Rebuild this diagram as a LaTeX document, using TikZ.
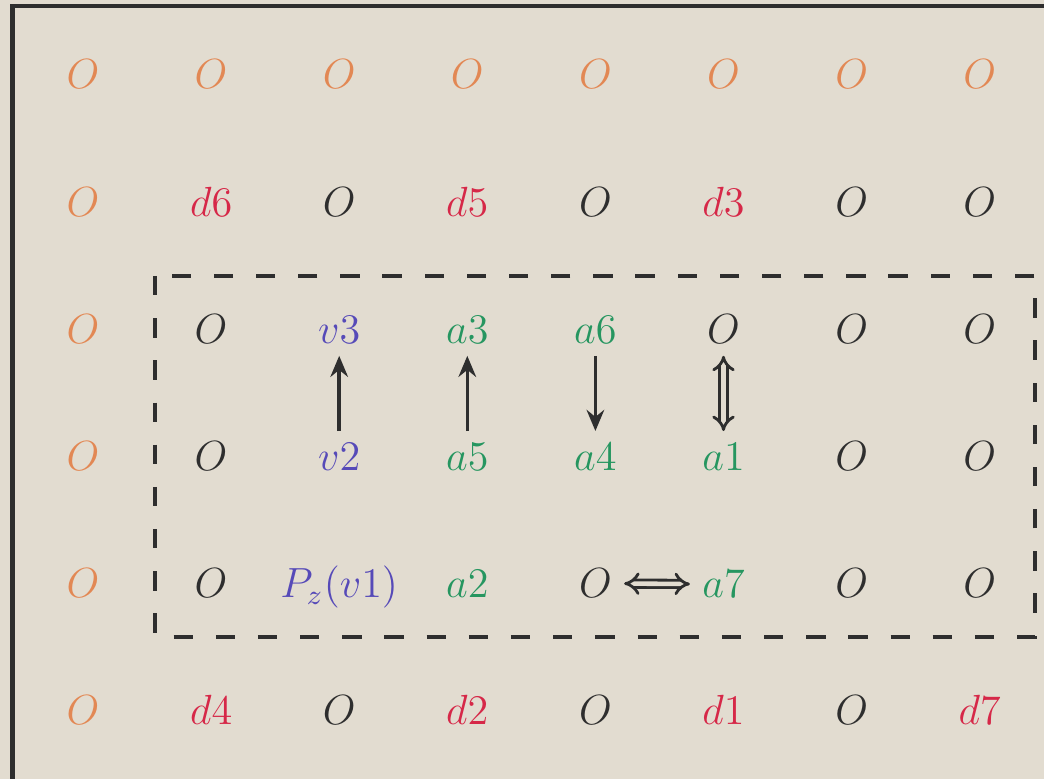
\documentclass[tikz,border=0pt]{standalone}
\usepackage{xcolor}
\usetikzlibrary{arrows.meta}
\definecolor{qbg}{RGB}{226,220,208}
\definecolor{qorange}{RGB}{226,136,84}
\definecolor{qred}{RGB}{214,40,72}
\definecolor{qgreen}{RGB}{38,150,96}
\definecolor{qblue}{RGB}{86,74,184}
\definecolor{qgray}{RGB}{46,46,46}

\begin{document}
\begin{tikzpicture}[
  cell/.style={anchor=base, font=\fontsize{12}{14}\selectfont},
  arr/.style={-{Stealth[length=6pt,width=5pt,inset=2pt]}, line width=1pt, qgray},
  dblarr/.style={{Implies}-{Implies}, double=qbg, double distance=1.3pt, line width=0.8pt, qgray}
]

\clip (0,0) rectangle (10.44,7.79);
\fill[qbg] (0,0) rectangle (10.44,7.79);
%frame:
\draw[line width=1.2pt, qgray] (0.125,-1) |- (11,7.73);

%box:
\draw[dashed, dash pattern=on 5.5pt off 6.5pt, line width=0.9pt, qgray] (1.55,7.79-2.76) rectangle (10.35,7.79-6.37);

\begin{scope}[shift={(0.83-1.281,6.90+1.272)}, x=1.281cm, y=-1.272cm]
%outer zeros:
\foreach \c in {1,...,8}
  \node[cell, qorange] (o-1-\c) at (\c,1) {$O$};
\foreach \r in {2,...,6}
  \node[cell, qorange] (o-\r-1) at (1,\r) {$O$};
%inner zeros:
\foreach \r/\c in {2/3,2/5,2/7,2/8,3/2,3/6,3/7,3/8,4/2,4/7,4/8,5/2,5/5,5/7,5/8,6/3,6/5,6/7}
  \node[cell, qgray] (o-\r-\c) at (\c,\r) {$O$};
%d:
\node[cell, qred] (d6) at (2,2) {$d6$};
\node[cell, qred] (d5) at (4,2) {$d5$};
\node[cell, qred] (d3) at (6,2) {$d3$};
\node[cell, qred] (d4) at (2,6) {$d4$};
\node[cell, qred] (d2) at (4,6) {$d2$};
\node[cell, qred] (d1) at (6,6) {$d1$};
\node[cell, qred] (d7) at (8,6) {$d7$};
%v:
\node[cell, qblue] (v3) at (3,3) {$v3$};
\node[cell, qblue] (v2) at (3,4) {$v2$};
\node[cell, qblue] (pz) at (3,5) {$P_z(v1)$};
%a:
\node[cell, qgreen] (a3) at (4,3) {$a3$};
\node[cell, qgreen] (a6) at (5,3) {$a6$};
\node[cell, qgreen] (a5) at (4,4) {$a5$};
\node[cell, qgreen] (a4) at (5,4) {$a4$};
\node[cell, qgreen] (a1) at (6,4) {$a1$};
\node[cell, qgreen] (a2) at (4,5) {$a2$};
\node[cell, qgreen] (a7) at (6,5) {$a7$};
\end{scope}

%moves:
\draw[arr] (v2) -- (v3);
\draw[arr] (a5) -- (a3);
\draw[arr] (a6) -- (a4);
\draw[dblarr] (a1) -- (o-3-6);
\draw[dblarr] (o-5-5) -- (a7);

\end{tikzpicture}
\end{document}
